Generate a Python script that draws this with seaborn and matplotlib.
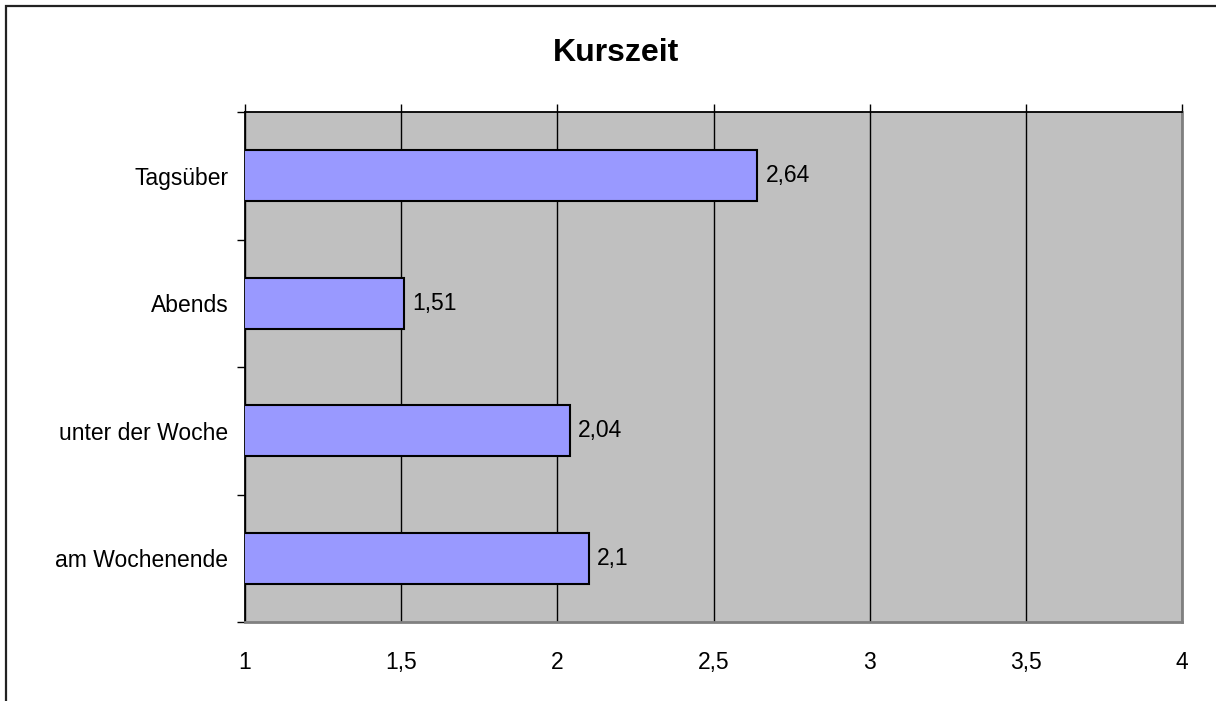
import matplotlib
matplotlib.use("Agg")
import matplotlib.pyplot as plt
from matplotlib.patches import Rectangle
import pandas as pd
import seaborn as sns

# data
categories = ["Tagsüber", "Abends", "unter der Woche", "am Wochenende"]
values = [2.64, 1.51, 2.04, 2.1]
value_labels = ["2,64", "1,51", "2,04", "2,1"]
x_ticks = [1, 1.5, 2, 2.5, 3, 3.5, 4]
x_tick_labels = ["1", "1,5", "2", "2,5", "3", "3,5", "4"]

df = pd.DataFrame({"Kategorie": categories, "Wert": values})

sns.set_theme(style="white")
plt.rcParams["font.family"] = ["Liberation Sans", "DejaVu Sans"]
plt.rcParams["text.color"] = "black"
plt.rcParams["xtick.color"] = "black"
plt.rcParams["ytick.color"] = "black"
plt.rcParams["axes.labelcolor"] = "black"

fig = plt.figure(figsize=(12.16, 7.01), dpi=100)
ax = fig.add_axes([245 / 1216, 1 - 622 / 701, (1182 - 245) / 1216, (622 - 112) / 701])
ax.set_facecolor("#C0C0C0")

sns.barplot(data=df, x="Wert", y="Kategorie", orient="h", color="#9999FF",
            edgecolor="black", linewidth=1.5, width=0.4, saturation=1, ax=ax, zorder=3)

ax.set_xlim(1, 4)
ax.set_ylim(3.5, -0.5)
ax.set_xticks(x_ticks)
ax.set_xticklabels(x_tick_labels)
ax.set_xlabel("")
ax.set_ylabel("")

# gridlines
ax.set_axisbelow(True)
ax.grid(axis="x", color="black", linewidth=1)
ax.grid(axis="y", visible=False)

# x: tick marks on top, labels below
ax.tick_params(axis="x", which="major", top=True, bottom=False, labeltop=False,
               labelbottom=True, direction="out", length=6, width=1,
               color="black", pad=15, labelsize=16.5, labelcolor="black")

# y: ticks at category boundaries
ax.set_yticks([-0.5, 0.5, 1.5, 2.5, 3.5], minor=True)
ax.tick_params(axis="y", which="major", length=0, pad=12, labelsize=16.5,
               labelcolor="black")
ax.tick_params(axis="y", which="minor", left=True, direction="out",
               length=6, width=1, color="black")

for s in ["left", "top"]:
    ax.spines[s].set_color("black")
    ax.spines[s].set_linewidth(1.3)
for s in ["right", "bottom"]:
    ax.spines[s].set_color("#808080")
    ax.spines[s].set_linewidth(2)

ax.bar_label(ax.containers[0], labels=value_labels, padding=6, fontsize=16.5,
             color="black")

fig.text(616 / 1216, 1 - 53 / 701, "Kurszeit", ha="center", va="center",
         fontsize=23, fontweight="bold", color="black")

# chart border (only left and top visible)
fig.patches.append(Rectangle((5.8 / 1216, -0.1), 1.1, 1.1 - 5.8 / 701,
                             transform=fig.transFigure, fill=False,
                             edgecolor="#222222", linewidth=1.6, figure=fig))

fig.savefig("out.png", dpi=100)
